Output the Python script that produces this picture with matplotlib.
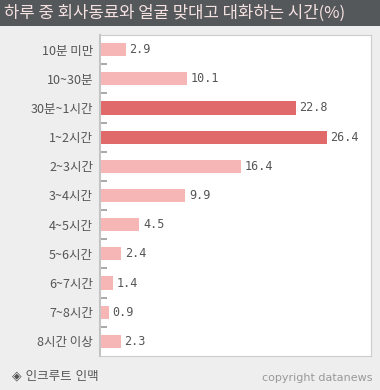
import matplotlib.pyplot as plt
import numpy as np

plt.rcParams['font.family'] = ['Noto Sans CJK KR', 'DejaVu Sans']

categories = ['10분 미만', '10~30분', '30분~1시간', '1~2시간', '2~3시간', '3~4시간',
              '4~5시간', '5~6시간', '6~7시간', '7~8시간', '8시간 이상']
values = [2.9, 10.1, 22.8, 26.4, 16.4, 9.9, 4.5, 2.4, 1.4, 0.9, 2.3]
highlight = ['30분~1시간', '1~2시간']

light = '#f7b6b6'
dark = '#e06a6a'
colors = [dark if c in highlight else light for c in categories]

W, H = 380, 390
fig = plt.figure(figsize=(W / 100, H / 100), dpi=100)
fig.patch.set_facecolor('#eeeeee')

# title bar
fig.patches.append(plt.Rectangle((0, 1 - 26 / H), 1, 26 / H, transform=fig.transFigure,
                                 facecolor='#54585b', edgecolor='none', zorder=0))
fig.text(4 / W, 1 - 13 / H, '하루 중 회사동료와 얼굴 맞대고 대화하는 시간(%)',
         color='#f6e1e1', fontsize=12, va='center', ha='left')

ax = fig.add_axes([100 / W, 1 - 356 / H, 271 / W, 321 / H])
ax.set_facecolor('white')
y = np.arange(len(categories))
ax.barh(y, values, height=0.45, color=colors, zorder=2)
ax.set_ylim(len(categories) - 0.5, -0.5)
ax.set_xlim(-0.1, 31.6)

for yi, v in zip(y, values):
    ax.text(v + 0.45, yi, f'{v}', va='center', ha='left', fontsize=8.5,
            color='#555555', family='DejaVu Sans Mono')

ax.set_xticks([])
ax.set_yticks(y)
ax.set_yticklabels(categories, fontsize=9, color='#555555')
ax.tick_params(axis='y', length=0, pad=5)
ax.set_yticks(np.arange(0.5, len(categories) - 1, 1), minor=True)
ax.tick_params(axis='y', which='minor', direction='in', length=5, width=1.2, color='#999999')

for s in ['top', 'right', 'bottom']:
    ax.spines[s].set_color('#cccccc')
ax.spines['left'].set_color('#c4c4c4')
ax.spines['left'].set_linewidth(1.5)

fig.text(12 / W, 1 - 376 / H, '◈ 인크루트 인맥', fontsize=9, color='#555555',
         va='center', ha='left', family=['DejaVu Sans', 'Noto Sans CJK KR'])
fig.text(372 / W, 1 - 378 / H, 'copyright datanews', fontsize=8, color='#999999',
         va='center', ha='right', family='DejaVu Sans')

fig.savefig('out.png', dpi=100, facecolor=fig.get_facecolor())
